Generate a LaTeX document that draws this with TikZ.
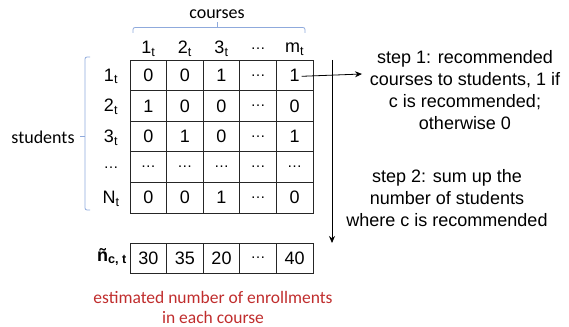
\documentclass[tikz,border=0pt]{standalone}
\usepackage{fontspec}
\setmainfont{Liberation Sans}
\newfontfamily\calfont{Carlito}
\usetikzlibrary{arrows.meta}
\definecolor{bracecol}{RGB}{143,170,220}
\definecolor{redtxt}{RGB}{192,45,45}
\begin{document}
\begin{tikzpicture}[x=1pt,y=-1pt,
  cell/.style={draw=black!85,line width=0.8pt,minimum width=36.6pt,minimum height=30.6pt,inner sep=0pt,font=\fontsize{18}{20}\selectfont},
  lbl/.style={inner sep=0pt,font=\fontsize{18}{20}\selectfont},
  steptxt/.style={align=center,inner sep=0pt,font=\fontsize{18}{22}\selectfont},
  cal/.style={inner sep=0pt,font=\calfont\fontsize{18}{20}\selectfont},
  bracket/.style={draw=bracecol,line width=0.8pt,rounded corners=2pt},
  arr/.style={draw=black,line width=0.8pt,-{Stealth[length=7pt,width=6pt]}}]
\path[use as bounding box] (0,0) rectangle (569,326);
% matrix cells
\def\ell{{\fontsize{15}{16}\selectfont …}}
\foreach \r/\row in {1/{0,0,1,\ell,1},2/{1,0,0,\ell,0},3/{0,1,0,\ell,1},4/{\ell,\ell,\ell,\ell,\ell},5/{0,0,1,\ell,0}}{
  \foreach \v [count=\c] in \row {
    \node[cell] (c-\r-\c) at ({130+36.6*(\c-0.5)},{60+30.6*(\r-0.5)}) {\v};
  }
}
% bottom row
\foreach \v [count=\c] in {30,35,20,\ell,40}{
  \node[cell,minimum height=30pt] (n-\c) at ({130+36.6*(\c-0.5)},258) {\v};
}
% column headers
\foreach \v [count=\c] in {1\textsubscript{t},2\textsubscript{t},3\textsubscript{t},\ell,m\textsubscript{t}}{
  \node[lbl] (h-\c) at ({130+36.6*(\c-0.5)},49) {\v};
}
% row labels
\foreach \v [count=\r] in {1\textsubscript{t},2\textsubscript{t},3\textsubscript{t},\ell,N\textsubscript{t}}{
  \node[lbl] (r-\r) at (111,{60+30.6*(\r-0.5)+1}) {\v};
}
\node[lbl,font=\bfseries\fontsize{18}{20}\selectfont] (ntil) at (112,257) {ñ\textsubscript{c, t}};
% labels
\node[cal] (courses) at (217,14) {courses};
\node[cal] (students) at (43,137) {students};
% brackets
\draw[bracket] (133,33) -- (133,27.5) -- (305,27.5) -- (305,33);
\draw[bracecol,line width=0.8pt] (217,27.5) -- (217,22);
\draw[bracket] (90,57) -- (85,57) -- (85,210) -- (90,210);
\draw[bracecol,line width=0.8pt] (85,136) -- (80,136);
% step texts
\node[steptxt] (step1) at (465,90) {step 1: recommended\\courses to students, 1 if\\c is recommended;\\otherwise 0};
\node[steptxt] (step2) at (447,198) {step 2: sum up the\\number of students\\where c is recommended};
% red caption
\node[cal,text=redtxt,align=center,font=\calfont\fontsize{17.5}{20}\selectfont] (cap) at (213,307) {estimated number of enrollments\\in each course};
% arrows
\coordinate (a1e) at (362,74);
\coordinate (a2s) at (332,60);
\coordinate (a2e) at (332,243);
\draw[arr] ([xshift=7pt,yshift=-1pt]c-1-5.center) -- (a1e);
\draw[arr] (a2s) -- (a2e);
\end{tikzpicture}
\end{document}
